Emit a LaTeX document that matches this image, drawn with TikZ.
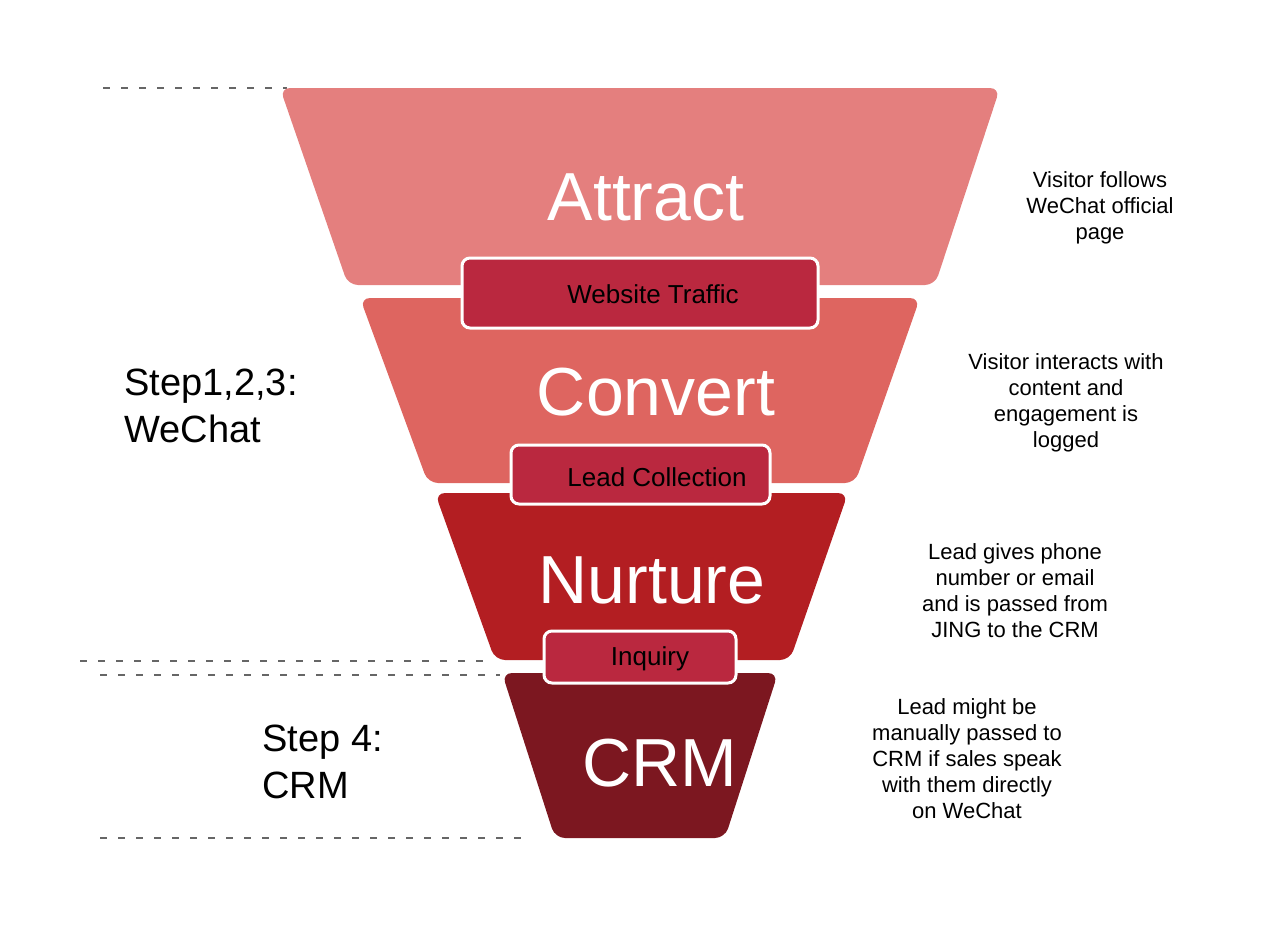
\documentclass[tikz,border=0pt]{standalone}
\usepackage{fontspec}
\setmainfont{Liberation Sans}
\usetikzlibrary{positioning}
\definecolor{attractred}{HTML}{E47F7E}
\definecolor{convertred}{HTML}{DE6560}
\definecolor{nurturered}{HTML}{B31E22}
\definecolor{crmred}{HTML}{7C1720}
\definecolor{tagred}{HTML}{BA283F}
\definecolor{guidegray}{HTML}{666666}

\begin{document}
\begin{tikzpicture}[
    x=0.5pt, y=-0.5pt,
    stage/.style={rounded corners=5pt},
    stagetext/.style={text=white, font=\fontsize{34}{40}\selectfont},
    tagbox/.style={draw=white, line width=1.5pt, fill=tagred, rounded corners=4pt, inner sep=0pt},
    tagtext/.style={font=\fontsize{13}{15}\selectfont},
    note/.style={align=center, font=\fontsize{11}{13}\selectfont},
    steptext/.style={align=left, anchor=west, inner sep=0pt, font=\fontsize{19}{23.5}\selectfont},
    guide/.style={draw=guidegray, dash pattern=on 3.5pt off 5.5pt, line width=0.6pt}
]
\useasboundingbox (0,0) rectangle (1280,948);

% Guide lines
\draw[guide] (103,88) -- (287,88);
\draw[guide] (80,661) -- (487,661);
\draw[guide] (100,675) -- (500,675);
\draw[guide] (100,838) -- (527,838);

% Funnel stages
\fill[stage, attractred] (280,88) -- (1000,88) -- (935,285) -- (348,285) -- cycle;
\fill[stage, convertred] (360,298) -- (920,298) -- (855,483) -- (428,483) -- cycle;
\fill[stage, nurturered] (435,493) -- (848,493) -- (790,660) -- (495,660) -- cycle;
\fill[stage, crmred] (502,673) -- (778,673) -- (725,838) -- (555,838) -- cycle;

\node[stagetext] (attract) at (646,197) {Attract};
\node[stagetext] (convert) at (656,392) {Convert};
\node[stagetext] (nurture) at (652,580) {Nurture};
\node[stagetext] (crm) at (660,763) {CRM};

% Tags between stages
\node[tagbox, minimum width=178pt, minimum height=35pt] (trafficbox) at (640,293) {};
\node[tagtext] (traffic) at (653,294) {Website Traffic};
\node[tagbox, minimum width=129.5pt, minimum height=29.5pt] (leadbox) at (640.5,474.5) {};
\node[tagtext] (lead) at (657,477) {Lead Collection};
\node[tagbox, minimum width=96pt, minimum height=26pt] (inquirybox) at (640,657) {};
\node[tagtext] (inquiry) at (650,659) {Inquiry};

% Notes
\node[note] (note1) at (1100,208) {Visitor follows\\WeChat official\\page};
\node[note] (note2) at (1066,403) {Visitor interacts with\\content and\\engagement is\\logged};
\node[note] (note3) at (1015,591) {Lead gives phone\\number or email\\and is passed from\\JING to the CRM};
\node[note] (note4) at (967,759) {Lead might be\\manually passed to\\CRM if sales speak\\with them directly\\on WeChat};

% Steps
\node[steptext] (wechatstep) at (124,406) {Step1,2,3:\\WeChat};
\node[steptext] (crmstep) at (262,762) {Step 4:\\CRM};

\end{tikzpicture}
\end{document}
